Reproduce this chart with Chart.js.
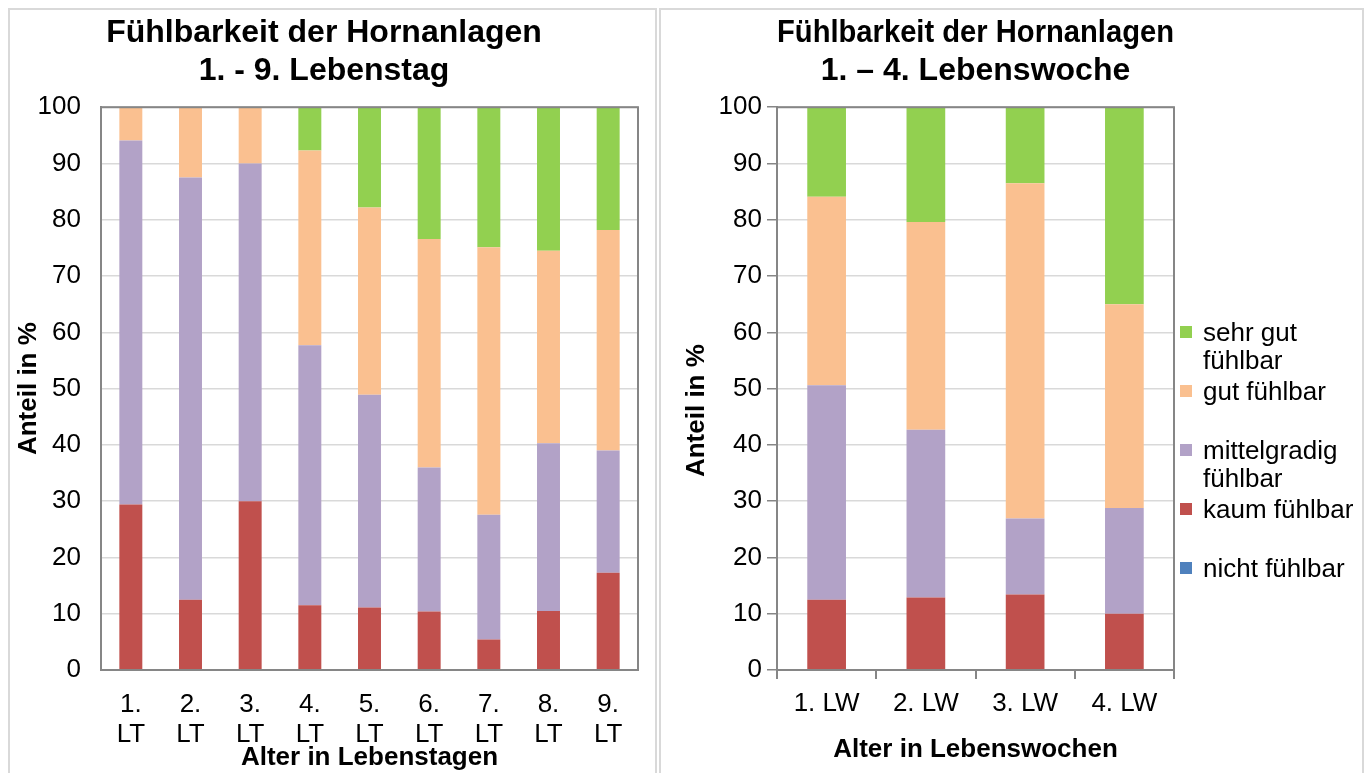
<!DOCTYPE html>
<html>
<head>
<meta charset="utf-8">
<script src="https://cdn.jsdelivr.net/npm/chart.js@4/dist/chart.umd.min.js"></script>
<style>
   body { margin: 0; background: #fff; width: 1370px; height: 773px; overflow: hidden; position: relative; font-family: "Liberation Sans", Arial, sans-serif; }
   .panel { position: absolute; top: 8px; height: 790px; border: 2px solid #d9d9d9; box-sizing: border-box; }
   .box { position: absolute; top: 10px; height: 763px; }
   #legend { position: absolute; left: 1180px; top: 318px; }
   #legend .item { position: relative; height: 59px; padding-left: 23px; font-size: 26px; line-height: 28px; color: #000; white-space: nowrap; }
   #legend .mark { position: absolute; left: 0; top: 8px; width: 12px; height: 12px; }
</style>
</head>
<body>
<div class="panel" style="left:8px; width:649px;"></div>
<div class="panel" style="left:659px; width:705px;"></div>
<div class="box" style="left:10px; width:645px;"><canvas id="dayChart"></canvas></div>
<div class="box" style="left:662px; width:700px;"><canvas id="weekChart"></canvas></div>
<div id="legend"></div>
<script>
'use strict';

// categories
var dayLabels = [['1.', 'LT'], ['2.', 'LT'], ['3.', 'LT'], ['4.', 'LT'], ['5.', 'LT'], ['6.', 'LT'], ['7.', 'LT'], ['8.', 'LT'], ['9.', 'LT']];
var weekLabels = ['1. LW', '2. LW', '3. LW', '4. LW'];
var yTicks = [0, 10, 20, 30, 40, 50, 60, 70, 80, 90, 100];

// series, bottom to top of each stack
var seriesNames = [['nicht fühlbar'], ['kaum fühlbar'], ['mittelgradig', 'fühlbar'], ['gut fühlbar'], ['sehr gut', 'fühlbar']];
var seriesColors = ['#4f81bd', '#c0504d', '#b2a2c7', '#fac090', '#92d050'];

// Anteil in % je Lebenstag
var dayNicht  = [0, 0, 0, 0, 0, 0, 0, 0, 0];
var dayKaum   = [29.4, 12.5, 30.0, 11.5, 11.1, 10.4, 5.4, 10.5, 17.3];
var dayMittel = [64.7, 75.0, 60.0, 46.2, 37.8, 25.6, 22.2, 29.8, 21.7];
var dayGut    = [5.9, 12.5, 10.0, 34.6, 33.3, 40.6, 47.5, 34.2, 39.2];
var daySehr   = [0, 0, 0, 7.7, 17.8, 23.4, 24.9, 25.5, 21.8];

// Anteil in % je Lebenswoche
var weekNicht  = [0, 0, 0, 0];
var weekKaum   = [12.5, 12.9, 13.4, 10.0];
var weekMittel = [38.1, 29.8, 13.5, 18.8];
var weekGut    = [33.5, 36.9, 59.6, 36.2];
var weekSehr   = [15.9, 20.4, 13.5, 35.0];

var FONT = '"Liberation Sans", Arial, sans-serif';
var AXIS = '#868686';
var GRID = '#d9d9d9';

Chart.defaults.font.family = FONT;
Chart.defaults.color = '#000';

// gray frame round the plot area
var frame = {
   id: 'frame',
   afterDatasetsDraw: function (chart) {
      var a = chart.chartArea, ctx = chart.ctx;
      ctx.save();
      ctx.strokeStyle = AXIS;
      ctx.lineWidth = 2;
      ctx.strokeRect(a.left, a.top, a.right - a.left, a.bottom - a.top);
      ctx.restore();
   }
};

// rotated y title that can sit off the axis centre
var yTitle = {
   id: 'yTitle',
   afterDraw: function (chart, args, o) {
      var a = chart.chartArea, ctx = chart.ctx;
      ctx.save();
      ctx.translate(o.x, (a.top + a.bottom) / 2 + o.shift);
      ctx.rotate(-Math.PI / 2);
      ctx.font = 'bold 26px ' + FONT;
      ctx.fillStyle = '#000';
      ctx.textAlign = 'center';
      ctx.textBaseline = 'middle';
      ctx.fillText('Anteil in %', 0, 0);
      ctx.restore();
   }
};

function makeSets(values, barPct) {
   return values.map(function (v, i) {
      return {
         label: seriesNames[i].join(' '),
         data: v,
         backgroundColor: seriesColors[i],
         borderWidth: 0,
         barPercentage: barPct,
         categoryPercentage: 1
      };
   });
}

function makeChart(id, labels, sets, opt) {
   return new Chart(document.getElementById(id), {
      type: 'bar',
      data: { labels: labels, datasets: sets },
      plugins: [frame, yTitle],
      options: {
         responsive: true,
         maintainAspectRatio: false,
         animation: false,
         layout: { padding: { top: 4, right: opt.padRight, left: 0, bottom: 0 } },
         plugins: {
            legend: { display: false },
            tooltip: { enabled: false },
            yTitle: { x: opt.yTitleX, shift: opt.yTitleShift },
            title: {
               display: true,
               text: opt.title,
               fullSize: opt.fullTitle,
               font: { size: 32, weight: 'bold', lineHeight: 1.16 },
               color: '#000',
               padding: { top: 1, bottom: opt.titleGap }
            }
         },
         scales: {
            x: {
               stacked: true,
               grid: {
                  display: true,
                  drawOnChartArea: false,
                  drawTicks: opt.xTicks,
                  tickLength: 9,
                  color: AXIS,
                  lineWidth: 2
               },
               border: { color: AXIS, width: 2 },
               ticks: { font: { size: 26, lineHeight: 1.15 }, color: '#000', padding: opt.xPad, maxRotation: 0, autoSkip: false },
               title: {
                  display: true,
                  text: opt.xTitle,
                  font: { size: 26, weight: 'bold' },
                  color: '#000',
                  padding: { top: 0, bottom: opt.xTitleBottom }
               },
               afterFit: function (s) { s.height = opt.xHeight; }
            },
            y: {
               stacked: true,
               min: 0,
               max: 100,
               afterBuildTicks: function (s) { s.ticks = yTicks.map(function (v) { return { value: v }; }); },
               grid: {
                  color: GRID,
                  lineWidth: 1.5,
                  drawTicks: opt.yTicks,
                  tickLength: 10,
                  tickColor: AXIS
               },
               border: { color: AXIS, width: 2 },
               ticks: { font: { size: 26 }, color: '#000', padding: opt.yPad },
               afterFit: function (s) { s.width = opt.yWidth; }
            }
         }
      }
   });
}

makeChart('dayChart', dayLabels,
   makeSets([dayNicht, dayKaum, dayMittel, dayGut, daySehr], 0.385), {
      title: ['Fühlbarkeit der Hornanlagen', '1. - 9. Lebenstag'],
      fullTitle: true, titleGap: 18, padRight: 17,
      xTitle: 'Alter in Lebenstagen', xTicks: false, xPad: 20, xTitleBottom: 0, xHeight: 103,
      yTicks: false, yPad: 20, yWidth: 91, yTitleX: 19, yTitleShift: 0
   });

makeChart('weekChart', weekLabels,
   makeSets([weekNicht, weekKaum, weekMittel, weekGut, weekSehr], 0.39), {
      title: ['Fühlbarkeit der Hornanlagen', '1. – 4. Lebenswoche'],
      fullTitle: false, titleGap: 18, padRight: 188,
      xTitle: 'Alter in Lebenswochen', xTicks: true, xPad: 10, xTitleBottom: 8, xHeight: 103,
      yTicks: true, yPad: 5, yWidth: 115, yTitleX: 35, yTitleShift: 22
   });

// legend, top entry first
var legend = document.getElementById('legend');
for (var i = seriesNames.length - 1; i >= 0; i--) {
   var item = document.createElement('div');
   item.className = 'item';
   item.innerHTML = '<span class="mark" style="background:' + seriesColors[i] + '"></span>' + seriesNames[i].join('<br>');
   legend.appendChild(item);
}
</script>
</body>
</html>
